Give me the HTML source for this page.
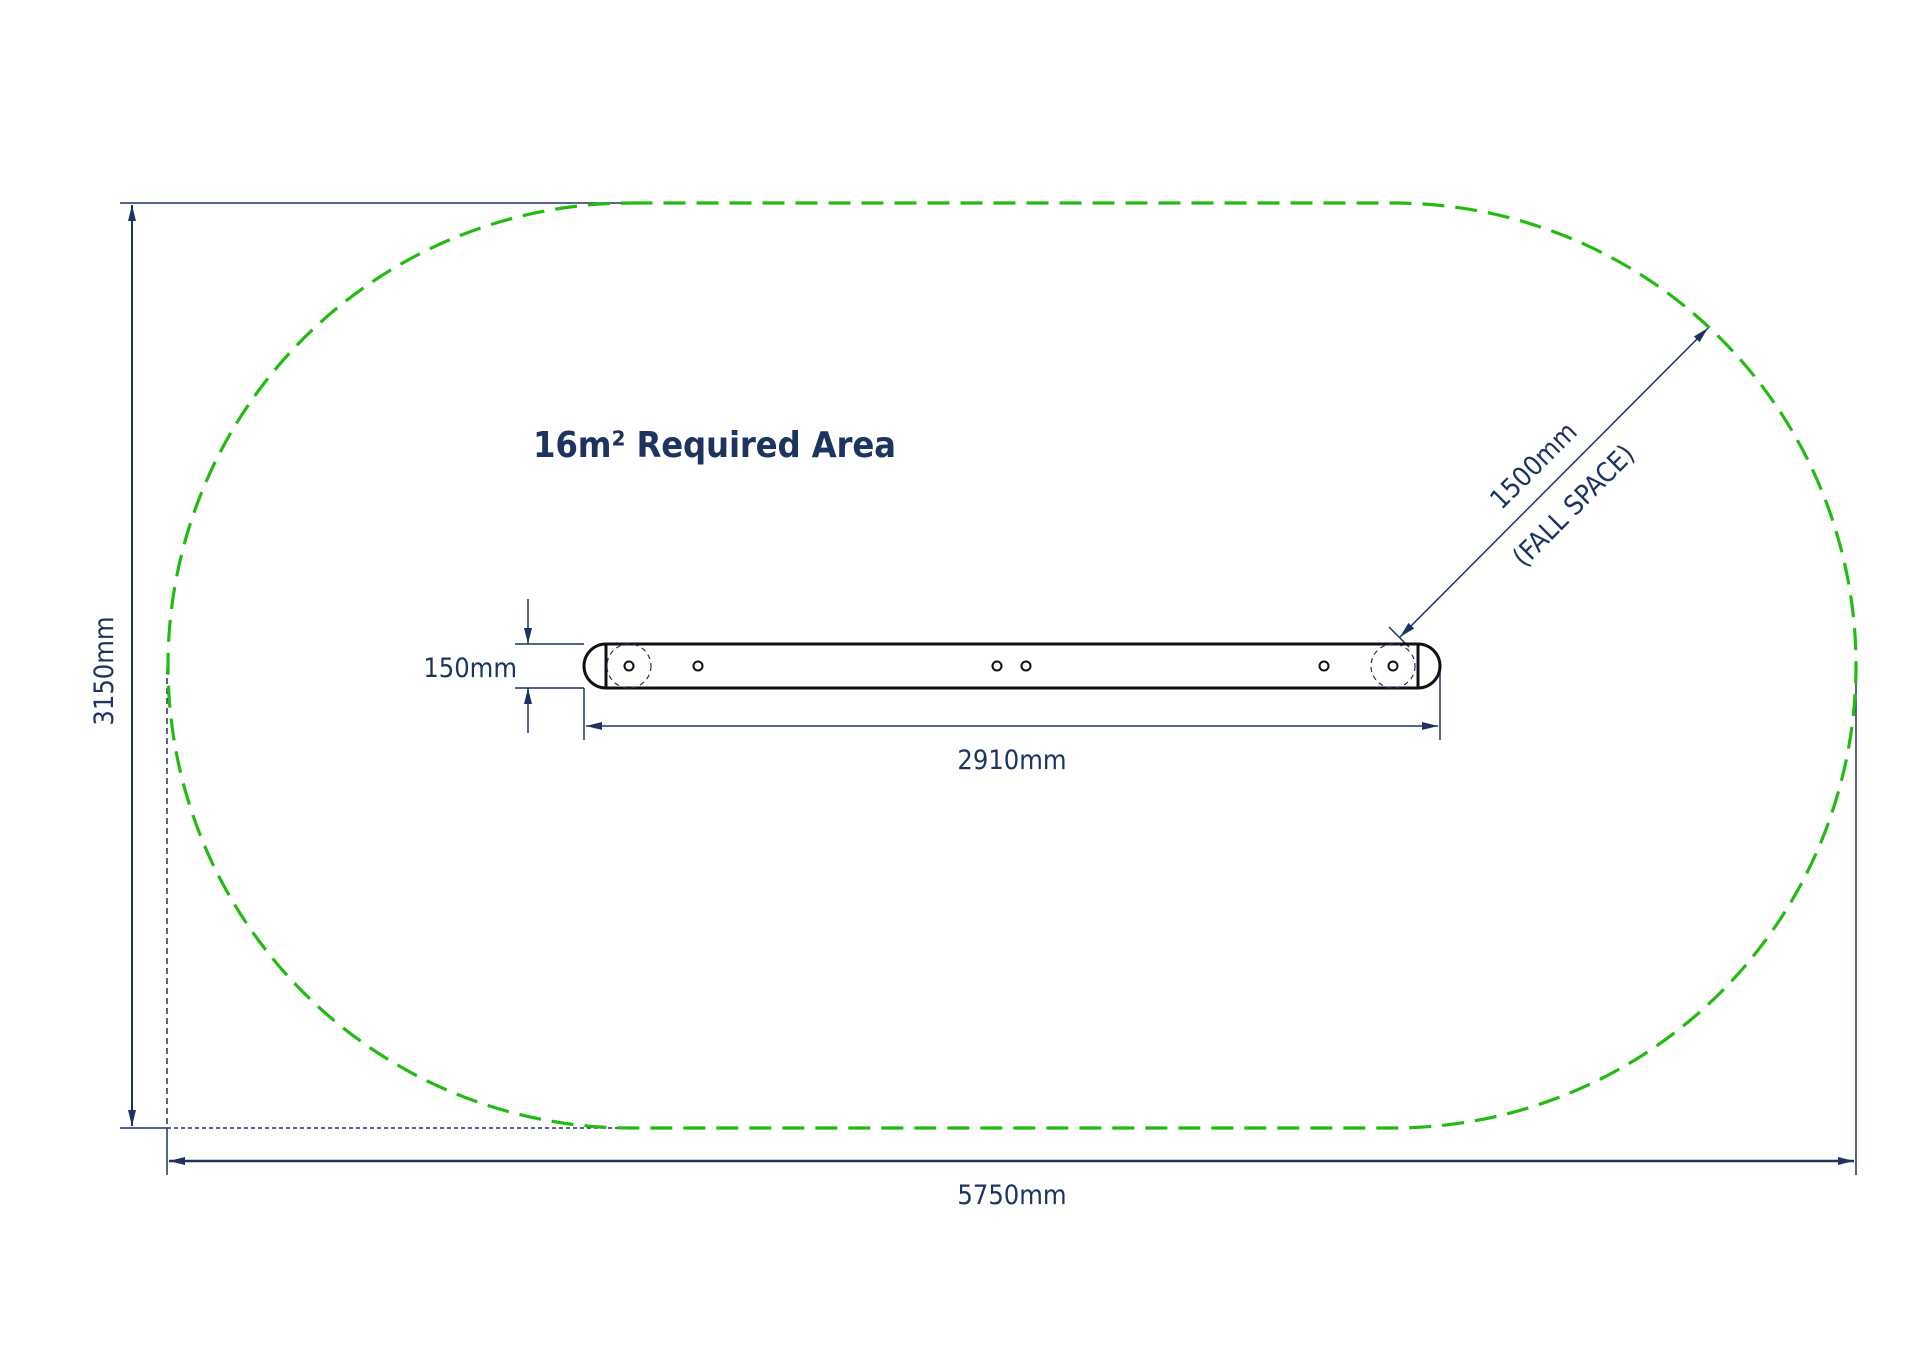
<!DOCTYPE html>
<html><head><meta charset="utf-8"><style>
html,body{margin:0;padding:0;background:#fff;}
svg{display:block;}
text{font-family:"DejaVu Sans Condensed","Liberation Sans",sans-serif;fill:#1d3461;}
</style></head><body>
<svg width="1920" height="1357" viewBox="0 0 1920 1357" xmlns="http://www.w3.org/2000/svg">
<defs>
<marker id="a" viewBox="0 0 16 8" refX="16" refY="4" markerWidth="16" markerHeight="9" orient="auto-start-reverse" markerUnits="userSpaceOnUse">
<path d="M0,0 L16,4 L0,8 z" fill="#1d3461"/></marker>
</defs>
<g stroke="#1d3461" stroke-width="1.5" fill="none">
<line x1="120" y1="203" x2="625" y2="203"/>
<line x1="120" y1="1128" x2="167" y2="1128"/>
<line x1="167" y1="1128" x2="625" y2="1128" stroke-dasharray="4,3"/>
<line x1="167" y1="668" x2="167" y2="1128" stroke-dasharray="6,4"/>
<line x1="167" y1="1128" x2="167" y2="1175"/>
<line x1="1856" y1="668" x2="1856" y2="1175"/>
<line x1="132" y1="205" x2="132" y2="1126" marker-start="url(#a)" marker-end="url(#a)" stroke-width="2"/>
<line x1="169" y1="1161" x2="1854" y2="1161" marker-start="url(#a)" marker-end="url(#a)" stroke-width="2.5"/>
<line x1="515" y1="644" x2="584" y2="644"/>
<line x1="515" y1="688" x2="584" y2="688"/>
<line x1="528" y1="599" x2="528" y2="644" marker-end="url(#a)"/>
<line x1="528" y1="733" x2="528" y2="688" marker-end="url(#a)"/>
<line x1="584" y1="688" x2="584" y2="740"/>
<line x1="1440" y1="666" x2="1440" y2="740"/>
<line x1="586" y1="726" x2="1438" y2="726" marker-start="url(#a)" marker-end="url(#a)"/>
<line x1="1400" y1="637" x2="1708" y2="328" marker-start="url(#a)" marker-end="url(#a)"/>
<line x1="1389" y1="627" x2="1409" y2="647"/>
</g>
<path d="M630.5,203 L1393.5,203 A462.5,462.5 0 0 1 1393.5,1128 L630.5,1128 A462.5,462.5 0 0 1 630.5,203 Z" fill="none" stroke="#22bb11" stroke-width="3.2" stroke-dasharray="22,11"/>
<g stroke="#111" stroke-width="3" fill="none">
<path d="M606,644 L1418,644 A22,22 0 0 1 1418,688 L606,688 A22,22 0 0 1 606,644 Z"/>
<line x1="606" y1="644" x2="606" y2="688"/>
<line x1="1418" y1="644" x2="1418" y2="688"/>
</g>
<g stroke="#1d3461" stroke-width="1.2" fill="none" stroke-dasharray="5,4">
<circle cx="629" cy="666" r="22"/>
<circle cx="1393" cy="666" r="22"/>
</g>
<g stroke="#111" stroke-width="2" fill="none">
<circle cx="629" cy="666" r="4.5"/><circle cx="698" cy="666" r="4.5"/>
<circle cx="997" cy="666" r="4.5"/><circle cx="1026" cy="666" r="4.5"/>
<circle cx="1324" cy="666" r="4.5"/><circle cx="1393" cy="666" r="4.5"/>
</g>
<text x="533" y="457" font-size="36" font-weight="bold" textLength="363">16m² Required Area</text>
<text x="517" y="677" font-size="27" text-anchor="end">150mm</text>
<text x="1012" y="769" font-size="27" text-anchor="middle">2910mm</text>
<text x="1012" y="1204" font-size="27" text-anchor="middle">5750mm</text>
<text transform="translate(113,671) rotate(-90)" font-size="27" text-anchor="middle">3150mm</text>
<text transform="translate(1540,472) rotate(-45)" font-size="27" text-anchor="middle">1500mm</text>
<text transform="translate(1580,512) rotate(-45)" font-size="27" text-anchor="middle">(FALL SPACE)</text>
</svg>
</body></html>
